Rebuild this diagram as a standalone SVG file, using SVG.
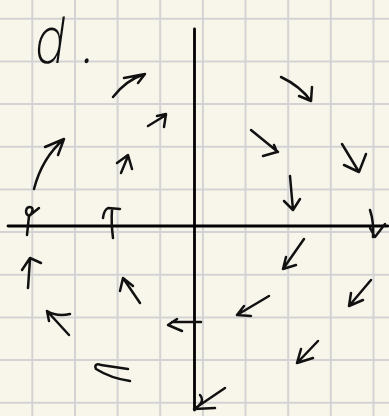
<svg xmlns="http://www.w3.org/2000/svg" width="389" height="416" viewBox="0 0 389 416">
<style>
.g{stroke:#d3d3d3;stroke-width:2;fill:none}
.ax{stroke:#000;stroke-width:2.8;fill:none;stroke-linecap:round}
.a{stroke:#111;stroke-width:2.5;fill:none;stroke-linecap:round;stroke-linejoin:round}
.t{font-family:Inter,"Liberation Sans",sans-serif;font-weight:250;font-size:64px;fill:#111}
</style>
<rect width="389" height="416" fill="#f8f6eb"/>
<g id="grid">
<path class="g" d="M32.3,0V416M75,0V416M117.6,0V416M160.2,0V416M202.9,0V416M245.5,0V416M288.2,0V416M330.8,0V416M373.5,0V416"/>
<path class="g" d="M0,18.8H389M0,61.5H389M0,104.1H389M0,146.8H389M0,189.4H389M0,232.1H389M0,274.7H389M0,317.4H389M0,360H389M0,402.7H389"/>
</g>
<g id="label">
<text class="t" transform="translate(0,63) skewX(-8) scale(0.8,1)"><tspan x="41">d</tspan><tspan x="99">.</tspan></text>
</g>
<g id="axes">
<path class="ax" d="M194.5,29V410"/>
<path class="ax" d="M8,226H388"/>
</g>
<g id="connectors">
<path class="a" d="M113,97Q126,80 145,74M124,78L145,74L138,83"/>
<path class="a" d="M148,126L166,115M157,116L166,114L164,127"/>
<path class="a" d="M34,189Q42,158 64,139M45,147L64,139L58,155"/>
<path class="a" d="M121,173L128,156M117,163L128,155L132,169"/>
<path class="a" d="M281,77Q300,86 311,101M299,96L311,101L312,87"/>
<path class="a" d="M251,130L278,152M263,156L277,152L274,145"/>
<path class="a" d="M342,144L359,172M344,165L359,172L366,154"/>
<path class="a" d="M290,176L293,210M284,201L293,210L300,199"/>
<path class="a" d="M27,235L29,216C24,213 26,207 30,207C34,207 33,213 29,216L39,208"/>
<path class="a" d="M113,238Q111,222 112,210M103,218Q104,210 108,208L120,209"/>
<path class="a" d="M28,288L30,259M22,270L30,258L41,263"/>
<path class="a" d="M140,303L123,278M120,291L123,278L133,286"/>
<path class="a" d="M69,335L47,311M47,311Q57,317 70,314M47,311L49,321"/>
<path class="a" d="M172,322H201M177,319L168,325L182,331"/>
<path class="a" d="M130,381C116,379 104,374 96,369M96,369C94,365 97,363 101,365L128,369"/>
<path class="a" d="M370,210Q374,222 373,237M370,228L375,237L385,224"/>
<path class="a" d="M304,239L283,269M286,257L283,269L296,265"/>
<path class="a" d="M371,280L349,306M351,293L349,306L363,300"/>
<path class="a" d="M269,296L237,315M244,306L237,315L251,316"/>
<path class="a" d="M318,341L297,363M301,349L297,363L313,358"/>
<path class="a" d="M225,388L194,409M200,395Q206,402 194,409L215,408"/>
</g>
</svg>
